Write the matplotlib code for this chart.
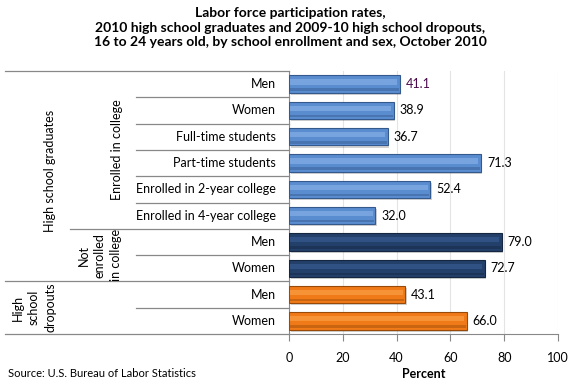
import matplotlib
matplotlib.use("Agg")
import matplotlib.pyplot as plt
import matplotlib.transforms as mtransforms
import numpy as np

categories = ["Men", "Women", "Full-time students", "Part-time students",
              "Enrolled in 2-year college", "Enrolled in 4-year college",
              "Men", "Women", "Men", "Women"]
values = [41.1, 38.9, 36.7, 71.3, 52.4, 32.0, 79.0, 72.7, 43.1, 66.0]
groups = ["enrolled"] * 6 + ["not_enrolled"] * 2 + ["dropout"] * 2
xticks = [0, 20, 40, 60, 80, 100]

title = ("Labor force participation rates,\n"
         "2010 high school graduates and 2009-10 high school dropouts,\n"
         "16 to 24 years old, by school enrollment and sex, October 2010")

plt.rcParams['font.family'] = ['Lato', 'DejaVu Sans']

W, H = 580, 383
fig = plt.figure(figsize=(W / 100, H / 100), dpi=100)
ax_l, ax_r, ax_t, ax_b = 289, 558, 71, 334
ax = fig.add_axes([ax_l / W, 1 - ax_b / H, (ax_r - ax_l) / W, (ax_b - ax_t) / H])

colors = {"enrolled": ("#5A8CD0", "#7FAAE4", "#34598C"),
          "not_enrolled": ("#23406A", "#34568A", "#142640"),
          "dropout": ("#F07A18", "#F99A40", "#9A4A08")}

y = np.arange(len(values))
bh = 0.66
for i, (v, g) in enumerate(zip(values, groups)):
    base, light, dark = colors[g]
    # shadow
    ax.barh(i + 0.08, v, height=bh, left=0.6, color="#000000", alpha=0.18, zorder=2)
    ax.barh(i, v, height=bh, color=base, edgecolor=dark, linewidth=0.8, zorder=3)
    ax.barh(i - bh * 0.12, v - 1.2, height=bh * 0.3, left=0.3, color=light,
            linewidth=0, zorder=4, alpha=0.8)
    ax.barh(i + bh * 0.32, v - 0.6, height=bh * 0.14, left=0.3, color=dark,
            linewidth=0, zorder=4, alpha=0.45)
    lab_color = "#4B0A4B" if i == 0 else "black"
    ax.text(v + 2.3, i, f"{v:.1f}", va="center", ha="left", fontsize=9,
            color=lab_color, zorder=5)

ax.set_xlim(0, 100)
ax.set_ylim(len(values) - 0.5, -0.5)
ax.set_xticks(xticks)
ax.set_xticklabels([str(t) for t in xticks], fontsize=9)
ax.set_yticks([])
ax.set_xlabel("Percent", fontsize=9, fontweight="bold", labelpad=3)
ax.grid(axis="x", color="#E4E4E4", linewidth=0.8, zorder=0)
ax.set_axisbelow(True)
for s in ["top", "right"]:
    ax.spines[s].set_visible(False)
for s in ["left", "bottom"]:
    ax.spines[s].set_color("#888888")
ax.tick_params(axis="x", colors="#888888", length=5, direction="out", pad=8,
               labelcolor="black")

# Category table on left
tr = mtransforms.blended_transform_factory(fig.transFigure, ax.transData)
line_kw = dict(color="#888888", linewidth=0.9, transform=tr, clip_on=False)
starts = {-0.5: 5, 0.5: 136, 1.5: 136, 2.5: 136, 3.5: 136, 4.5: 136,
          5.5: 70, 6.5: 136, 7.5: 5, 8.5: 136, 9.5: 5}
for yy, x0 in starts.items():
    ax.plot([x0 / W, ax_l / W], [yy, yy], **line_kw)

for i, c in enumerate(categories):
    ax.text(276 / W, i, c, transform=tr, ha="right", va="center", fontsize=9)

ax.text(50 / W, 3.3, "High school graduates", transform=tr, rotation=90,
        ha="center", va="center", fontsize=9)
ax.text(117 / W, 2.5, "Enrolled in college", transform=tr, rotation=90,
        ha="center", va="center", fontsize=9)
ax.text(100 / W, 6.5, "Not\nenrolled\nin college", transform=tr, rotation=90,
        ha="center", va="center", fontsize=9, linespacing=1.45)
ax.text(34 / W, 8.5, "High\nschool\ndropouts", transform=tr, rotation=90,
        ha="center", va="center", fontsize=9, linespacing=1.45)

fig.text(0.5, 1 - 7 / H, title, ha="center", va="top", fontsize=10,
         fontweight="bold", linespacing=1.25)
fig.text(8 / W, 1 - 377 / H, "Source: U.S. Bureau of Labor Statistics",
         ha="left", va="baseline", fontsize=8)

fig.savefig("out.png", dpi=100)
